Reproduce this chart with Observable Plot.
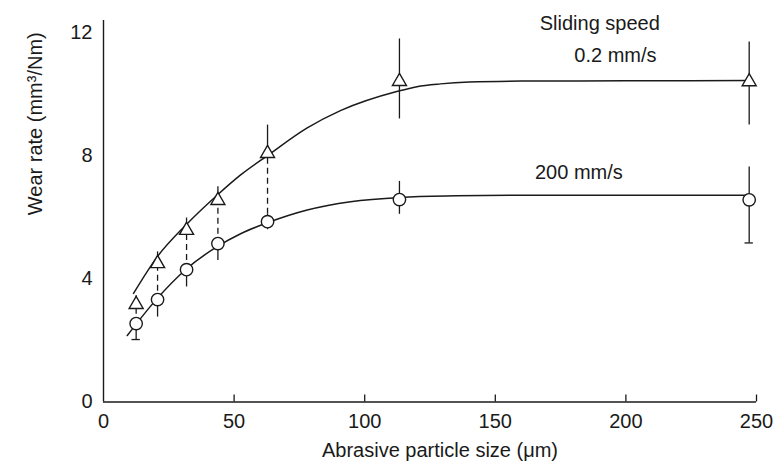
<!DOCTYPE html>
<html>
<head>
<meta charset="utf-8">
<script src="https://cdn.jsdelivr.net/npm/d3@7"></script>
<script src="https://cdn.jsdelivr.net/npm/@observablehq/plot@0.6"></script>
<style>
  html, body { margin: 0; padding: 0; background: #ffffff; }
  #chart svg { display: block; }
</style>
</head>
<body>
<div id="chart"></div>
<script>
// Abrasive particle size (µm) for each measured point
const sizes = [12.5, 20.7, 31.8, 43.8, 62.8, 113.3, 247.2];

// Sliding speed 0.2 mm/s (triangles)
const triWear = [3.17, 4.5, 5.58, 6.55, 8.08, 10.42, 10.41];
const triHi   = [3.45, 4.88, 5.98, 7.0, 9.0, 11.8, 11.7];
const triLo   = [2.85, 3.6, 4.6, 5.45, 6.1, 9.2, 9.0];

// Sliding speed 200 mm/s (circles)
const cirWear = [2.55, 3.33, 4.3, 5.15, 5.86, 6.58, 6.57];
const cirHi   = [2.55, 3.33, 4.3, 5.15, 6.1, 7.17, 7.64];
const cirLo   = [2.03, 2.76, 3.74, 4.6, 5.6, 6.1, 5.17];

// Fitted curves
const upperCurveX = [11.5, 20.5, 31.4, 43.5, 52.5, 62.8, 78, 90.7, 112.6, 120, 129, 140, 160, 200, 247];
const upperCurveY = [3.53, 4.71, 5.74, 6.72, 7.38, 8.01, 8.91, 9.47, 10.1, 10.25, 10.34, 10.4, 10.43, 10.44, 10.45];
const lowerCurveX = [9.1, 20.5, 31.4, 43.5, 52.5, 63.2, 78, 94.6, 113.7, 135, 160, 200, 247];
const lowerCurveY = [2.16, 3.36, 4.3, 5.05, 5.47, 5.84, 6.24, 6.51, 6.65, 6.7, 6.72, 6.72, 6.72];

// Axis ticks and texts
const xTicks = [0, 50, 100, 150, 200, 250];
const yTicks = [0, 4, 8, 12];
const xLabel = "Abrasive particle size (μm)";
const yLabel = "Wear rate (mm³/Nm)";
const seriesLabels = [
  {text: "Sliding speed", x: 190, y: 12.3},
  {text: "0.2 mm/s", x: 196, y: 11.25},
  {text: "200 mm/s", x: 182, y: 7.45}
];

const idx = d3.range(sizes.length);
const ink = "#1a1a1a";
const font = "'Liberation Sans', Arial, Helvetica, sans-serif";
const fs = 20;

// lower triangle bars that run down to the circle are drawn dashed
const dashedIdx = idx.filter(i => triLo[i] < cirWear[i] + 0.6);
const solidTriLoIdx = idx.filter(i => !dashedIdx.includes(i));
const cirCapIdx = [0, sizes.length - 1];

const upper = upperCurveX.map((x, i) => ({x, y: upperCurveY[i]}));
const lower = lowerCurveX.map((x, i) => ({x, y: lowerCurveY[i]}));

const chart = Plot.plot({
  width: 778,
  height: 472,
  marginLeft: 103,
  marginRight: 22,
  marginTop: 20,
  marginBottom: 70.5,
  style: {fontFamily: font, fontSize: fs + "px", color: ink, background: "#ffffff"},
  x: {domain: [0, 250], axis: null},
  y: {domain: [0, 12.4], axis: null},
  marks: [
    // axis lines
    Plot.ruleY([0], {stroke: ink, strokeWidth: 1.4}),
    Plot.ruleX([0], {stroke: ink, strokeWidth: 1.4}),
    // inward x ticks
    Plot.axisX({ticks: xTicks.filter(t => t > 0), tickSize: 7, dy: -7, tickFormat: () => "", label: null, stroke: ink, strokeWidth: 1.3}),
    // x tick labels
    Plot.axisX({ticks: xTicks, tickSize: 0, tickPadding: 12, label: null, fontSize: fs, fill: ink}),
    // y tick labels
    Plot.axisY({ticks: yTicks, tickSize: 0, tickPadding: 11, label: null, fontSize: fs, fill: ink}),
    // axis titles
    Plot.text([xLabel], {text: d => d, frameAnchor: "bottom", dy: 55, dx: 10, fontSize: fs, fill: ink}),
    Plot.text([yLabel], {text: d => d, frameAnchor: "left", rotate: -90, dx: -68, dy: 4, fontSize: fs, fill: ink}),

    // curves
    Plot.line(upper, {x: "x", y: "y", curve: "monotone-x", stroke: ink, strokeWidth: 1.5}),
    Plot.line(lower, {x: "x", y: "y", curve: "monotone-x", stroke: ink, strokeWidth: 1.5}),

    // error bars: triangles
    Plot.ruleX(idx, {x: i => sizes[i], y1: i => triWear[i], y2: i => triHi[i], stroke: ink, strokeWidth: 1.3}),
    Plot.ruleX(solidTriLoIdx, {x: i => sizes[i], y1: i => triLo[i], y2: i => triWear[i], stroke: ink, strokeWidth: 1.3}),
    Plot.ruleX(dashedIdx, {x: i => sizes[i], y1: i => triLo[i], y2: i => triWear[i], stroke: ink, strokeWidth: 1.3, strokeDasharray: "6,4"}),
    // error bars: circles
    Plot.ruleX(idx, {x: i => sizes[i], y1: i => cirLo[i], y2: i => cirHi[i], stroke: ink, strokeWidth: 1.3}),
    Plot.ruleY(cirCapIdx, {y: i => cirLo[i], x1: i => sizes[i] - 1.6, x2: i => sizes[i] + 1.6, stroke: ink, strokeWidth: 1.3}),

    // markers
    Plot.dot(idx, {x: i => sizes[i], y: i => triWear[i], symbol: "triangle", r: 5.2, fill: "#ffffff", stroke: ink, strokeWidth: 1.4}),
    Plot.dot(idx, {x: i => sizes[i], y: i => cirWear[i], symbol: "circle", r: 6.2, fill: "#ffffff", stroke: ink, strokeWidth: 1.4}),

    // series labels
    Plot.text(seriesLabels, {x: "x", y: "y", text: "text", fontSize: fs, fill: ink})
  ]
});

document.getElementById("chart").appendChild(chart);
</script>
</body>
</html>
